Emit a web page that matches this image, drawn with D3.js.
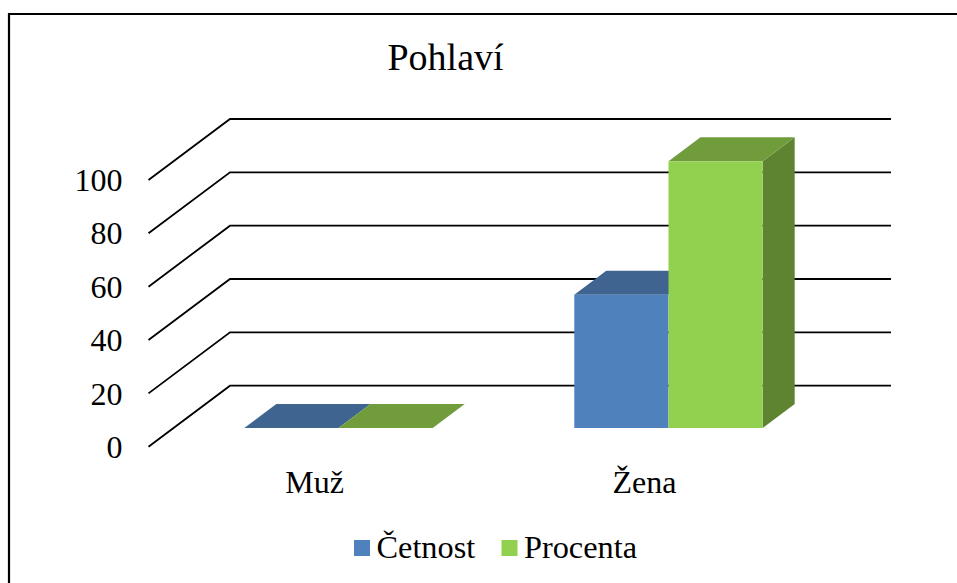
<!DOCTYPE html>
<html>
<head>
<meta charset="utf-8">
<script src="https://cdn.jsdelivr.net/npm/d3@7"></script>
<style>
  html, body { margin: 0; padding: 0; background: #fff; overflow: hidden; }
  text { font-family: "Liberation Serif", serif; fill: #000; }
</style>
</head>
<body>
<script>
"use strict";

const categories = ["Muž", "Žena"];
const seriesNames = ["Četnost", "Procenta"];
const cetnost = [0, 50];
const procenta = [0, 100];
const yTicks = [0, 20, 40, 60, 80, 100];

const frontColors = ["#4f81bd", "#92d050"];
const topColors = ["#3f648f", "#709c3c"];
const sideColors = ["#345a85", "#5f8431"];

const width = 957;
const height = 583;

const svg = d3
  .select("body")
  .append("svg")
  .attr("width", width)
  .attr("height", height)
  .style("display", "block");

// 3d offsets: wall = floor depth, gap = bar front from chart front, depth = bar depth
const wall = { x: 81.5, y: -61 };
const gap = { x: 25, y: -18.7 };
const depth = { x: 32, y: -24 };

const y = d3.scaleLinear().domain([0, 100]).range([446.7, 180]);
const x0 = d3.scaleBand().domain(categories).range([148.5, 808.5]);
const barWidth = 94.2;
const x1 = d3
  .scaleBand()
  .domain(seriesNames)
  .range([x0.bandwidth() / 2 - barWidth, x0.bandwidth() / 2 + barWidth]);

// outer frame
svg
  .append("path")
  .attr("d", d3.line()([[9, height], [9, 14], [width, 14]]))
  .attr("fill", "none")
  .attr("stroke", "#000")
  .attr("stroke-width", 2.2);

svg
  .append("text")
  .attr("x", 445.5)
  .attr("y", 69.5)
  .attr("text-anchor", "middle")
  .attr("font-size", 38)
  .text("Pohlaví");

// gridlines on side wall and back wall
const wallRight = x0.range()[1] + wall.x + 1;
svg
  .append("g")
  .selectAll("path")
  .data(yTicks)
  .enter()
  .append("path")
  .attr("d", d =>
    d3.line()([
      [x0.range()[0], y(d)],
      [x0.range()[0] + wall.x, y(d) + wall.y],
      [wallRight, y(d) + wall.y]
    ])
  )
  .attr("fill", "none")
  .attr("stroke", "#000")
  .attr("stroke-width", 1.8);

const axis = d3.axisLeft(y).tickValues(yTicks).tickSize(0).tickPadding(26);
const axisG = svg.append("g").attr("transform", "translate(148.5,0.4)").call(axis);
axisG.select(".domain").remove();
axisG
  .selectAll("text")
  .attr("font-size", 32)
  .attr("font-family", "Liberation Serif");

const catAxis = d3.axisBottom(x0).tickSize(0).tickPadding(24);
const catG = svg.append("g").attr("transform", "translate(1,446.7)").call(catAxis);
catG.select(".domain").remove();
catG
  .selectAll("text")
  .attr("font-size", 32)
  .attr("font-family", "Liberation Serif");

const poly = pts => d3.line()(pts) + "Z";
const barData = [];
seriesNames.forEach((name, s) => {
  const values = s === 0 ? cetnost : procenta;
  categories.forEach((cat, i) => barData.push({ name, cat, value: values[i], s }));
});

const bars = svg
  .append("g")
  .selectAll("g")
  .data(barData)
  .enter()
  .append("g");

function corners(d) {
  const left = x0(d.cat) + x1(d.name) + gap.x;
  const right = left + x1.bandwidth();
  const base = y(0) + gap.y;
  const top = y(d.value) + gap.y;
  return { left, right, base, top };
}

// side face, only shows for bars of the last series
bars
  .filter(d => d.s === 1 && d.value > 0)
  .append("path")
  .attr("d", d => {
    const c = corners(d);
    return poly([
      [c.right, c.top],
      [c.right + depth.x, c.top + depth.y],
      [c.right + depth.x, c.base + depth.y],
      [c.right, c.base]
    ]);
  })
  .attr("fill", d => sideColors[d.s]);

bars
  .append("path")
  .attr("d", d => {
    const c = corners(d);
    return poly([
      [c.left, c.top],
      [c.left + depth.x, c.top + depth.y],
      [c.right + depth.x, c.top + depth.y],
      [c.right, c.top]
    ]);
  })
  .attr("fill", d => topColors[d.s]);

bars
  .append("rect")
  .attr("x", d => corners(d).left)
  .attr("y", d => corners(d).top)
  .attr("width", x1.bandwidth())
  .attr("height", d => corners(d).base - corners(d).top)
  .attr("fill", d => frontColors[d.s]);

// legend
const legendX = [354, 501.5];
const legend = svg
  .append("g")
  .selectAll("g")
  .data(seriesNames)
  .enter()
  .append("g")
  .attr("transform", (d, i) => `translate(${legendX[i]},540)`);

legend
  .append("rect")
  .attr("width", 16)
  .attr("height", 16)
  .attr("fill", (d, i) => frontColors[i]);

legend
  .append("text")
  .attr("x", 22.5)
  .attr("y", 17.5)
  .attr("font-size", 32.3)
  .text(d => d);
</script>
</body>
</html>
